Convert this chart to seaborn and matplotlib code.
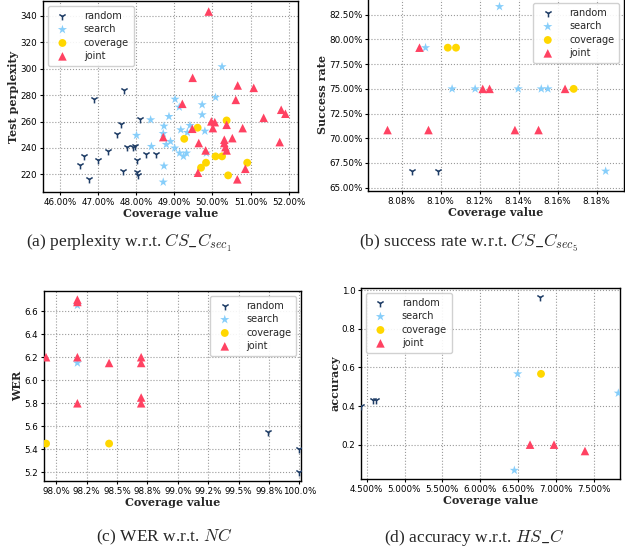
import matplotlib
matplotlib.use("Agg")
import matplotlib.pyplot as plt
import seaborn as sns
import pandas as pd
from matplotlib.ticker import PercentFormatter, MultipleLocator

# ---------------- data ----------------
methods = ["random", "search", "coverage", "joint"]

# (a) perplexity vs CS_C_sec1 coverage (%)
a_random_x = [46.90, 47.69, 48.10, 47.61, 47.50, 47.76, 47.92, 47.97, 47.26, 48.25,
              48.51, 46.63, 47.00, 46.52, 48.03, 47.66, 48.01, 48.06, 46.76]
a_random_y = [277.2, 284.0, 262.1, 257.8, 250.7, 240.6, 240.6, 241.4, 237.4, 235.6,
              235.6, 233.6, 231.1, 226.8, 230.5, 222.5, 221.7, 219.7, 216.2]
a_search_x = [50.25, 49.02, 50.08, 49.13, 49.73, 49.73, 48.86, 48.38, 48.73, 49.41,
              49.17, 49.80, 49.34, 48.71, 48.01, 48.40, 48.79, 48.90, 49.01, 49.14,
              49.24, 49.32, 49.84, 48.73, 48.71]
a_search_y = [301.5, 276.9, 278.3, 270.9, 272.7, 265.1, 263.8, 261.3, 256.5, 257.0,
              253.7, 252.7, 251.7, 250.9, 249.5, 241.1, 242.6, 244.9, 239.9, 236.1,
              233.6, 236.1, 236.1, 226.3, 214.1]
a_coverage_x = [50.37, 49.61, 49.26, 50.08, 50.25, 49.83, 49.70, 50.91, 50.41]
a_coverage_y = [260.8, 255.3, 246.9, 233.6, 233.6, 228.8, 225.0, 228.8, 219.2]
a_joint_x = [49.90, 49.48, 50.66, 51.08, 50.61, 49.21, 51.80, 51.91, 51.34, 49.97,
             50.06, 50.37, 50.79, 49.47, 50.01, 48.71, 50.52, 50.31, 50.31, 51.76,
             49.64, 50.34, 50.37, 49.82, 50.86, 49.62, 50.65]
a_joint_y = [343.3, 293.1, 287.3, 285.5, 276.4, 273.4, 268.9, 265.9, 262.8, 260.1,
             259.5, 257.5, 255.0, 254.5, 255.0, 248.2, 247.4, 246.2, 243.7, 244.4,
             243.7, 240.6, 238.1, 238.1, 224.2, 221.2, 216.2]

# (b) success rate (%) vs CS_C_sec5 coverage (%)
b_random_x = [8.0851, 8.0986]
b_random_y = [66.67, 66.67]
b_search_x = [8.1302, 8.0923, 8.1059, 8.1177, 8.1398, 8.1516, 8.1550, 8.1846]
b_search_y = [83.33, 79.17, 75.00, 75.00, 75.00, 75.00, 75.00, 66.67]
b_coverage_x = [8.1037, 8.1079, 8.1682]
b_coverage_y = [79.17, 79.17, 75.00]
b_joint_x = [8.0892, 8.0728, 8.0938, 8.1216, 8.1251, 8.1381, 8.1502, 8.1638]
b_joint_y = [79.17, 70.83, 70.83, 75.00, 75.00, 70.83, 70.83, 75.00]

# (c) WER vs NC coverage (%)
c_random_x = [99.745, 100.0, 100.0]
c_random_y = [5.55, 5.40, 5.20]
c_search_x = [98.173, 98.173]
c_search_y = [6.65, 6.15]
c_coverage_x = [97.915, 98.434]
c_coverage_y = [5.45, 5.45]
c_joint_x = [98.173, 98.173, 97.915, 98.173, 98.434, 98.698, 98.698, 98.173, 98.698, 98.698]
c_joint_y = [6.70, 6.68, 6.20, 6.20, 6.15, 6.20, 6.15, 5.80, 5.85, 5.80]

# (d) accuracy vs HS_C coverage (%)
d_random_x = [6.795, 4.425, 4.59, 4.62]
d_random_y = [0.967, 0.400, 0.433, 0.433]
d_search_x = [6.496, 6.452, 7.826]
d_search_y = [0.567, 0.067, 0.467]
d_coverage_x = [6.804]
d_coverage_y = [0.567]
d_joint_x = [6.659, 6.976, 7.385]
d_joint_y = [0.200, 0.200, 0.167]

ylabels = ["Test perplexity", "Success rate", "WER", "accuracy"]
xlabel = "Coverage value"
captions = [r"(a) perplexity w.r.t. $CS\_C_{sec_1}$",
            r"(b) success rate w.r.t. $CS\_C_{sec_5}$",
            r"(c) WER w.r.t. $NC$",
            r"(d) accuracy w.r.t. $HS\_C$"]

# ---------------- style ----------------
sns.set_theme(style="ticks")
plt.rcParams["font.family"] = ["DejaVu Sans"]
plt.rcParams["mathtext.fontset"] = "cm"

styles = {
    "random":   dict(marker="1", color="#1f3d66", s=32, linewidth=1.1),
    "search":   dict(marker="*", color="#87CEFA", s=48, linewidth=0),
    "coverage": dict(marker="o", color="#FFD700", s=32, linewidth=0),
    "joint":    dict(marker="^", color="#FF4262", s=38, linewidth=0),
}

def make_df(rx, ry, sx, sy, cx, cy, jx, jy):
    frames = []
    for m, xs, ys in zip(methods, [rx, sx, cx, jx], [ry, sy, cy, jy]):
        frames.append(pd.DataFrame({"x": xs, "y": ys, "method": m}))
    return pd.concat(frames, ignore_index=True)

dfs = [
    make_df(a_random_x, a_random_y, a_search_x, a_search_y, a_coverage_x, a_coverage_y, a_joint_x, a_joint_y),
    make_df(b_random_x, b_random_y, b_search_x, b_search_y, b_coverage_x, b_coverage_y, b_joint_x, b_joint_y),
    make_df(c_random_x, c_random_y, c_search_x, c_search_y, c_coverage_x, c_coverage_y, c_joint_x, c_joint_y),
    make_df(d_random_x, d_random_y, d_search_x, d_search_y, d_coverage_x, d_coverage_y, d_joint_x, d_joint_y),
]

W, H = 625, 554
fig = plt.figure(figsize=(W / 100, H / 100), dpi=100)

def rect(l, t, r, b):
    return [l / W, 1 - b / H, (r - l) / W, (b - t) / H]

rects = [rect(43, 1, 298, 192), rect(368, -2, 624, 191),
         rect(44, 291, 301, 481), rect(361, 288, 620, 479)]
xlims = [(45.56, 52.24), (8.0628, 8.194), (97.898, 100.014), (4.425, 7.848)]
ylims = [(206.6, 351.3), (64.66, 84.2), None, None]
xdec = [2, 2, 1, 3]
xstep = [1.0, 0.02, 0.25, 0.5]
ystep = [20, 2.5, 0.2, 0.2]
legend_loc = ["upper left", "upper right", "upper right", "upper left"]
cap_pos = [(129, 243), (468, 243), (164, 537), (474, 537)]

for i, df in enumerate(dfs):
    ax = fig.add_axes(rects[i])
    for m in methods:
        sub = df[df["method"] == m]
        st = styles[m]
        sns.scatterplot(data=sub, x="x", y="y", ax=ax, label=m, marker=st["marker"],
                        color=st["color"], s=st["s"], linewidth=st["linewidth"],
                        edgecolor=st["color"] if m == "random" else "none", zorder=3)
    ax.set_xlim(*xlims[i])
    if ylims[i] is not None:
        ax.set_ylim(*ylims[i])
    ax.xaxis.set_major_locator(MultipleLocator(xstep[i]))
    ax.yaxis.set_major_locator(MultipleLocator(ystep[i]))
    ax.xaxis.set_major_formatter(PercentFormatter(xmax=100, decimals=xdec[i]))
    if i == 1:
        ax.yaxis.set_major_formatter(PercentFormatter(xmax=100, decimals=2))
    ax.grid(True, linestyle=":", color="#9a9a9a", linewidth=0.8)
    ax.set_axisbelow(True)
    for sp in ax.spines.values():
        sp.set_visible(True)
        sp.set_color("black")
        sp.set_linewidth(1.0)
    ax.tick_params(labelsize=6.3, length=2.5, width=0.8, pad=1.5, colors="black")
    ax.set_xlabel(xlabel, family="DejaVu Serif", weight="bold", fontsize=8, labelpad=1)
    ax.set_ylabel(ylabels[i], family="DejaVu Serif", weight="bold", fontsize=8, labelpad=1)
    ax.legend(loc=legend_loc[i], fontsize=7, frameon=True, handletextpad=1.2,
              borderpad=0.5, labelspacing=0.35, fancybox=True, framealpha=0.9)
    cx, cy = cap_pos[i]
    fig.text(cx / W, 1 - cy / H, captions[i], ha="center", va="center",
             family="Liberation Serif", fontsize=12.5)

fig.savefig("out.png", dpi=100)
